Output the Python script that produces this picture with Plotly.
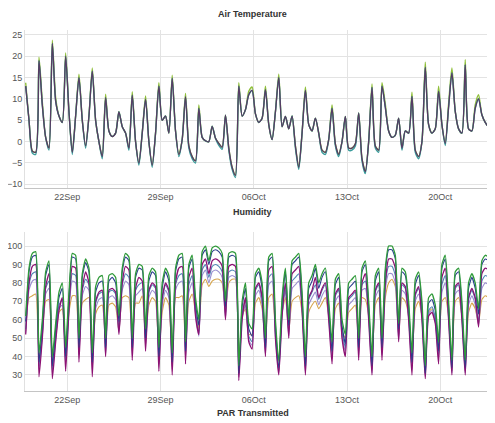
import pandas as pd
import plotly.graph_objects as go

START = "2014-09-18 21:00"
X_RANGE = ["2014-09-18 19:46", "2014-10-24 02:38"]
TICK_DATES = ["2014-09-22", "2014-09-29", "2014-10-06", "2014-10-13", "2014-10-20"]

TITLES = ["Air Temperature", "Humidity", "PAR Transmitted"]
TEMP_TICKS = [-10, -5, 0, 5, 10, 15, 20, 25]
HUM_TICKS = [30, 40, 50, 60, 70, 80, 90, 100]

# Air temperature (6-hourly readings)
TEMP = [13, 5, -2.2, -2.5, 19, 8.5, 1, -1.5, 23, 9.5,
        6, 4.5, 20, 7, -2.5, 6, 15, 5, -1, 6,
        16.5, 5, 0, -3.5, 10.3, 2.5, 1.2, 2, 7, 3.5,
        2, -1.5, 10.9, 0, -5, 2, 9.9, 0, -5.5, 2,
        13, 5, 6, 2, 14.8, 2.5, -3, 0.5, 10.5, -1,
        -3.5, -4.5, 7.8, 1, 0.2, 0, 3.6, 0.8, -0.4, -1.3,
        6.2, -1.5, -6, -7.9, 13, 6, 7.5, 11, 12, 6.5,
        4.5, 5.5, 12.2, 4, 0.5, 7, 15, 3.5, 5.9, 3,
        6, -1, -6, 2, 12, 4, 2.5, 5.5, 2, -2,
        -2.5, 0.5, 7.8, -0.5, -3, 0, 5.9, -1.5, -1.5, -0.5,
        6.7, -4, -7, 0, 12.7, -1, -2, 13, 8, 2.5,
        1, 1.5, 5.5, -1.5, 2.5, 2, 10.6, -2, -3.5, 0,
        17.4, 4, 2, 3, 11.8, 4, -0.4, 8, 16.1, 7.1,
        3, 2, 18, 3, 2.5, 7.8, 10, 6.3, 4.5, 3.5,
        11.4, 8]
TEMP_HI = [13.8, 5, -2.2, -2.5, 19.8, 9.3, 1, -1.5, 23.8, 10.3,
           6, 4.5, 20.8, 7, -2.5, 6, 15.8, 5, -1, 6,
           17.3, 5, 0, -3.5, 11.1, 2.5, 1.2, 2, 7, 3.5,
           2, -1.5, 11.7, 0, -5, 2, 10.7, 0, -5.5, 2,
           13.8, 5, 6, 2, 15.6, 2.5, -3, 0.5, 11.3, -1,
           -3.5, -4.5, 8.6, 1, 0.2, 0, 3.6, 0.8, -0.4, -1.3,
           6.2, -1.5, -6, -7.9, 13.8, 6, 7.5, 11.8, 12.8, 6.5,
           4.5, 5.5, 13, 4, 0.5, 7, 15.8, 3.5, 5.9, 3,
           6, -1, -6, 2, 12.8, 4, 2.5, 5.5, 2, -2,
           -2.5, 0.5, 8.6, -0.5, -3, 0, 5.9, -1.5, -1.5, -0.5,
           6.7, -4, -7, 0, 13.5, -1, -2, 13.8, 8.8, 2.5,
           1, 1.5, 5.5, -1.5, 2.5, 2, 11.6, -2, -3.5, 0,
           18.6, 4, 2, 3, 13, 4, -0.4, 8.8, 17.3, 7.1,
           3, 2, 19.2, 3, 2.5, 8.6, 11, 6.3, 4.5, 3.5,
           12.4, 8.8]
TEMP_LO = [13, 5, -2.7, -3, 19, 8.5, 1, -2, 23, 9.5,
           6, 4.5, 20, 7, -3, 6, 15, 5, -1.5, 6,
           16.5, 5, 0, -4, 10.3, 2.5, 1.2, 2, 7, 3.5,
           2, -2, 10.9, 0, -5.5, 2, 9.9, 0, -6, 2,
           13, 5, 6, 2, 14.8, 2.5, -3.5, 0.5, 10.5, -1.5,
           -4, -5, 7.8, 1, 0.2, 0, 3.6, 0.8, -0.9, -1.8,
           6.2, -2, -6.5, -8.4, 13, 6, 7.5, 11, 12, 6.5,
           4.5, 5.5, 12.2, 4, 0.5, 7, 15, 3.5, 5.9, 3,
           6, -1.5, -6.5, 2, 12, 4, 2.5, 5.5, 2, -2.5,
           -3, 0.5, 7.8, -1, -3.5, 0, 5.9, -2, -2, -1,
           6.7, -4.5, -7.5, 0, 12.7, -1.5, -2.5, 13, 8, 2.5,
           1, 1.5, 5.5, -2, 2.5, 2, 10.6, -2.5, -4, 0,
           17.4, 4, 2, 3, 11.8, 4, -0.9, 8, 16.1, 7.1,
           3, 2, 18, 3, 2.5, 7.8, 10, 6.3, 4.5, 3.5,
           11.4, 8]

# Humidity (6-hourly readings, several sensors)
HUM_GREEN = [62, 88, 96, 97, 42, 60, 86, 92, 40, 58,
             75, 80, 45, 75, 96, 95, 50, 85, 93, 88,
             42, 78, 83, 84, 50, 84, 85, 83, 62, 88,
             96, 94, 50, 85, 90, 89, 55, 84, 88, 86,
             45, 80, 88, 84, 42, 88, 95, 96, 48, 90,
             95, 72, 60, 97, 100, 92, 99, 100, 99, 96,
             70, 96, 97, 96, 35, 70, 80, 58, 55, 85,
             88, 80, 50, 94, 96, 60, 38, 72, 88, 60,
             92, 94, 96, 75, 40, 80, 84, 90, 80, 85,
             88, 70, 48, 82, 85, 60, 52, 80, 82, 84,
             50, 88, 92, 70, 40, 84, 88, 50, 88, 100,
             100, 95, 58, 88, 86, 70, 42, 82, 86, 70,
             35, 72, 74, 68, 48, 90, 95, 70, 38, 86,
             88, 70, 38, 80, 85, 80, 66, 92, 95, 94,
             72, 85]
HUM_NAVY = [59, 86, 94, 95, 37, 57, 84, 90, 35, 55,
            72, 77, 40, 72, 94, 93, 45, 83, 91, 86,
            37, 75, 80, 81, 45, 81, 83, 80, 59, 86,
            94, 92, 45, 83, 88, 87, 50, 81, 86, 84,
            40, 77, 86, 81, 37, 86, 93, 94, 43, 88,
            93, 69, 57, 95, 98, 90, 97, 98, 97, 94,
            67, 94, 95, 94, 31, 67, 77, 55, 51, 83,
            86, 77, 45, 92, 94, 57, 34, 69, 86, 57,
            90, 92, 94, 72, 35, 77, 81, 88, 77, 83,
            86, 67, 43, 79, 83, 57, 47, 77, 79, 81,
            45, 86, 90, 67, 35, 81, 86, 45, 86, 98,
            98, 93, 55, 86, 84, 67, 37, 79, 84, 67,
            31, 69, 71, 65, 43, 88, 93, 67, 34, 84,
            86, 67, 34, 77, 83, 77, 63, 90, 93, 92,
            69, 83]
HUM_MAGENTA = [52, 80, 89, 90, 29, 50, 78, 85, 28, 48,
               65, 72, 32, 65, 89, 88, 37, 77, 86, 80,
               29, 70, 75, 76, 40, 76, 77, 75, 52, 80,
               89, 87, 38, 77, 83, 81, 43, 76, 80, 78,
               32, 72, 80, 76, 30, 80, 88, 89, 36, 83,
               88, 62, 52, 90, 93, 85, 92, 93, 92, 89,
               60, 89, 90, 89, 27, 60, 72, 48, 44, 77,
               80, 72, 40, 87, 89, 50, 30, 62, 80, 50,
               85, 87, 89, 65, 30, 72, 76, 83, 72, 77,
               80, 60, 36, 74, 77, 50, 40, 72, 74, 76,
               38, 80, 85, 60, 30, 76, 80, 38, 80, 93,
               93, 88, 48, 80, 78, 60, 30, 74, 78, 60,
               28, 62, 64, 58, 36, 83, 88, 60, 30, 78,
               80, 60, 30, 72, 77, 72, 56, 85, 88, 87,
               62, 77]
HUM_STEEL = [55, 79, 85, 86, 35, 53, 77, 81, 33, 51,
             68, 71, 38, 68, 85, 84, 43, 76, 82, 79,
             35, 69, 74, 75, 43, 75, 76, 74, 55, 79,
             85, 83, 43, 76, 79, 80, 48, 75, 79, 77,
             38, 71, 79, 75, 35, 79, 84, 85, 41, 79,
             84, 65, 53, 87, 90, 83, 89, 90, 89, 86,
             63, 86, 87, 86, 30, 63, 71, 51, 48, 76,
             79, 71, 43, 83, 85, 53, 32, 65, 79, 53,
             81, 83, 85, 68, 33, 71, 75, 79, 71, 76,
             79, 63, 41, 73, 76, 53, 45, 71, 73, 75,
             43, 79, 81, 63, 33, 75, 79, 43, 79, 89,
             89, 84, 51, 79, 77, 63, 35, 73, 77, 63,
             30, 65, 67, 61, 41, 79, 84, 63, 32, 77,
             79, 63, 32, 71, 76, 71, 59, 81, 84, 83,
             65, 76]
HUM_LILAC = [53, 76, 81, 82, 33, 51, 74, 77, 31, 49,
             66, 68, 36, 66, 81, 80, 41, 73, 78, 76,
             33, 66, 71, 72, 41, 72, 73, 71, 53, 76,
             81, 79, 41, 73, 75, 77, 46, 72, 76, 74,
             36, 68, 76, 72, 33, 76, 80, 81, 39, 75,
             80, 63, 51, 84, 87, 80, 86, 87, 86, 83,
             61, 83, 84, 83, 29, 61, 68, 49, 46, 73,
             76, 68, 41, 79, 81, 51, 31, 63, 76, 51,
             77, 79, 81, 66, 31, 68, 72, 75, 68, 73,
             76, 61, 39, 70, 73, 51, 43, 68, 70, 72,
             41, 76, 77, 61, 31, 72, 76, 41, 76, 85,
             85, 80, 49, 76, 74, 61, 33, 70, 74, 61,
             29, 63, 65, 59, 39, 75, 80, 61, 31, 74,
             76, 61, 31, 68, 73, 68, 57, 77, 80, 79,
             63, 73]
HUM_TAN = [54, 72, 73, 74, 40, 52, 70, 71, 38, 50,
           64, 66, 43, 64, 73, 73, 48, 69, 71, 72,
           40, 63, 67, 68, 48, 68, 69, 67, 54, 72,
           73, 72, 48, 69, 69, 73, 51, 68, 72, 70,
           43, 64, 72, 68, 40, 72, 72, 73, 46, 70,
           74, 64, 55, 79, 82, 78, 81, 82, 82, 80,
           65, 80, 82, 82, 34, 62, 66, 52, 52, 69,
           72, 66, 48, 72, 74, 54, 37, 64, 72, 54,
           70, 72, 73, 64, 38, 64, 68, 70, 66, 69,
           72, 62, 46, 66, 69, 54, 50, 64, 66, 68,
           48, 72, 71, 62, 38, 68, 72, 48, 72, 80,
           82, 78, 52, 72, 70, 62, 40, 66, 70, 62,
           34, 64, 66, 60, 46, 70, 72, 62, 37, 70,
           72, 62, 37, 64, 69, 66, 58, 71, 73, 72,
           64, 69]

times = pd.date_range(START, periods=len(TEMP), freq="6h")

fig = go.Figure()

def add_line(vals, color, width, axis, smooth):
    fig.add_trace(go.Scatter(
        x=times, y=vals, mode="lines",
        line=dict(color=color, width=width, shape="spline", smoothing=smooth),
        xaxis="x" if axis == 1 else "x2", yaxis="y" if axis == 1 else "y2",
        showlegend=False, hoverinfo="skip"))

add_line(TEMP_HI, "#8fbf3a", 1.4, 1, 0.7)
add_line(TEMP_LO, "#3a9c9c", 1.4, 1, 0.7)
add_line(TEMP, "#573c63", 1.3, 1, 0.7)

add_line(HUM_TAN, "#d6a54d", 1.1, 2, 0.5)
add_line(HUM_LILAC, "#9a8fd0", 1.1, 2, 0.5)
add_line(HUM_STEEL, "#4f86b5", 1.1, 2, 0.5)
add_line(HUM_MAGENTA, "#8c1273", 1.3, 2, 0.5)
add_line(HUM_NAVY, "#2a3d8c", 1.1, 2, 0.5)
add_line(HUM_GREEN, "#2f9a3a", 1.3, 2, 0.5)

FONT = "Liberation Sans, Arial, sans-serif"
GRID = "#e3e3e3"

xcommon = dict(range=X_RANGE, tickvals=TICK_DATES, tickformat="%d%b",
               showgrid=True, gridcolor=GRID, gridwidth=1,
               showline=True, linecolor="#c4c4c4", linewidth=1,
               ticks="", tickfont=dict(size=9, color="#555555", family=FONT),
               automargin=False, zeroline=False)
ycommon = dict(showgrid=True, gridcolor=GRID, gridwidth=1,
               showline=True, linecolor="#e0e0e0", linewidth=1,
               ticks="", tickfont=dict(size=9, color="#555555", family=FONT),
               automargin=False, zeroline=False)

# the page body adds an 8px offset, so the figure is 8px smaller each way
fig.update_layout(
    width=487, height=415,
    margin=dict(l=17, r=0, t=0, b=0),
    paper_bgcolor="white", plot_bgcolor="white",
    font=dict(family=FONT),
    xaxis=dict(domain=[0, 1], anchor="y", **xcommon),
    yaxis=dict(domain=[0.5651, 0.9470], range=[-10.98, 26.17],
               tickvals=TEMP_TICKS, anchor="x", **ycommon),
    xaxis2=dict(domain=[0, 1], anchor="y2", **xcommon),
    yaxis2=dict(domain=[0.0771, 0.4610], range=[21.3, 107.8],
                tickvals=HUM_TICKS, anchor="x2", **ycommon),
)

title_pos = [(1.0, "top"), (0.5084, "middle"), (0.0241, "middle")]
for t, (yy, anc) in zip(TITLES, title_pos):
    fig.add_annotation(text="<b>" + t + "</b>", xref="paper", yref="paper",
                       x=0.485, y=yy, showarrow=False, xanchor="center", yanchor=anc,
                       borderpad=0,
                       font=dict(size=9, color="#333333", family=FONT))

fig.write_html("out.html")
